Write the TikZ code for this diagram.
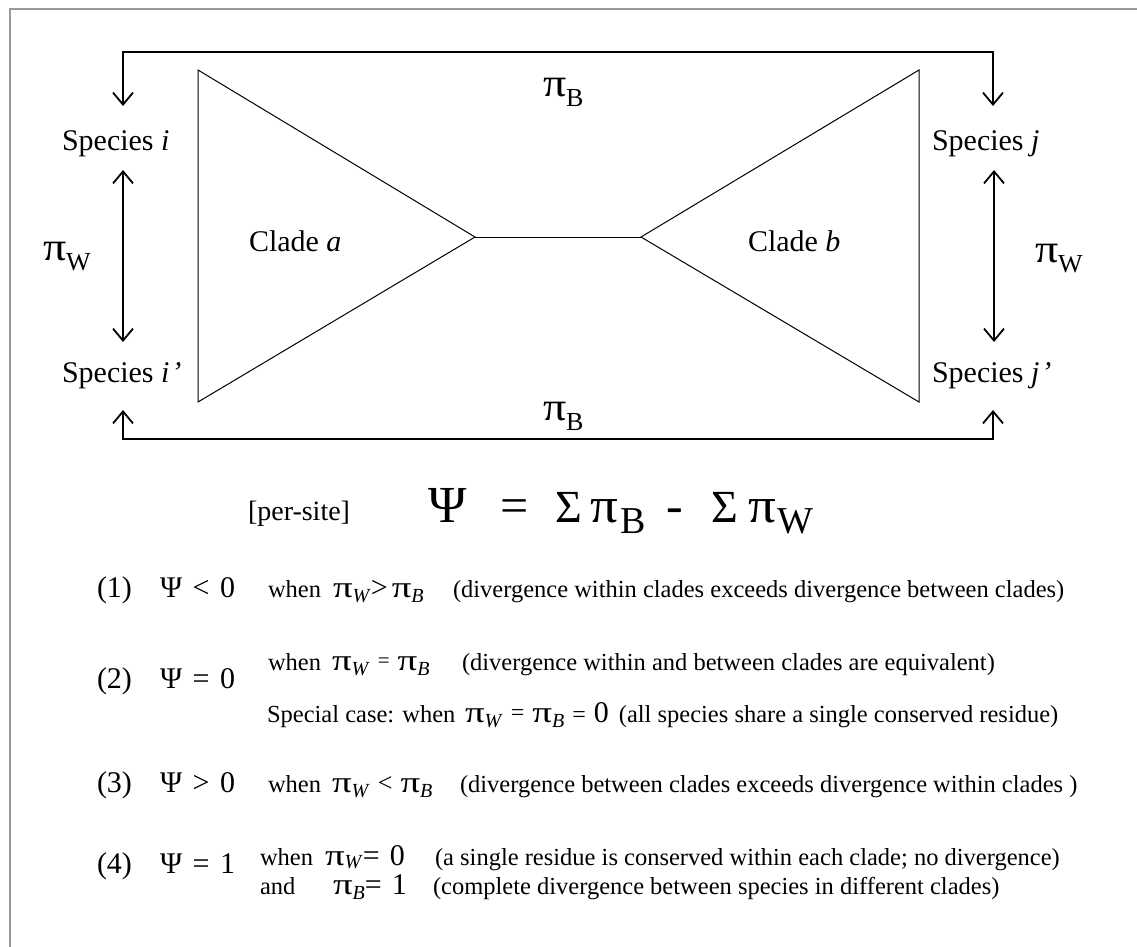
\documentclass[tikz,border=0pt]{standalone}
\usepackage{graphicx}
\usepackage{fontspec}
\setmainfont{Liberation Serif}
\usetikzlibrary{arrows.meta}
\newcommand\fsz[1]{\fontsize{#1}{#1}\selectfont}
\newcommand\PI{{\fsz{30}\scalebox{1.3}[1]{π}}}
\newcommand\SUB[1]{{\fsz{20}\raisebox{-5pt}{\textit{#1}}}}
\newcommand\SUBH[1]{{\fsz{20}\raisebox{-3.5pt}{\textit{#1}}}}
\newcommand\BPI{{\fsz{40}\scalebox{1.15}[1]{π}}}
\newcommand\BSUB[1]{{\fsz{26}\raisebox{-10pt}{#1}}}
\tikzset{
  every node/.style={inner sep=0pt, outer sep=0pt},
  lbl/.style={anchor=base west, font=\fsz{30}},
  rowtxt/.style={anchor=base west, font=\fsz{24.5}},
  numtxt/.style={anchor=base west, font=\fsz{30}},
  eqtxt/.style={anchor=base west, font=\fsz{50}},
  conn/.style={line width=1.5pt},
  tri/.style={line width=1pt, line join=miter},
  frame/.style={line width=2pt, draw=black!40},
}
\begin{document}
\begin{tikzpicture}[x=1pt, y=-1pt, >={Straight Barb[length=12pt,width=20pt,line width=1.8pt]}]
\useasboundingbox (0,0) rectangle (1137,947);
\draw[frame] (10,947) -- (10,9) -- (1137,9);

% clades
\coordinate (la) at (198,70);
\coordinate (lb) at (198,402);
\coordinate (ap) at (475,237);
\coordinate (bp) at (641,237);
\coordinate (ra) at (919,70);
\coordinate (rb) at (919,402);
\draw[tri] (la) -- (ap) -- (lb) -- cycle;
\draw[tri] (ap) -- (bp);
\draw[tri] (bp) -- (ra) -- (rb) -- cycle;
\node[lbl] (ca) at (249,251) {Clade \textit{a}};
\node[lbl] (cb) at (748,251) {Clade \textit{b}};

% species
\node[lbl] (spi) at (62,150) {Species \textit{i}};
\node[lbl] (spii) at (62,382) {Species \textit{i\hspace{2pt}’}};
\node[lbl] (spj) at (932,150) {Species \textit{j}};
\node[lbl] (spjj) at (932,382) {Species \textit{j\hspace{2pt}’}};

% arrow ends
\coordinate (ti) at (123,106);
\coordinate (tj) at (993,106);
\coordinate (bi) at (123,410);
\coordinate (bj) at (993,410);
\coordinate (wi1) at (123,170);
\coordinate (wi2) at (123,342);
\coordinate (wj1) at (994,170);
\coordinate (wj2) at (994,342);
\draw[conn,<->] (ti) -- ++(0,-54) -| (tj);
\draw[conn,<->] (bi) -- ++(0,29) -| (bj);
\draw[conn,<->] (wi1) -- (wi2);
\draw[conn,<->] (wj1) -- (wj2);

% pi labels
\node[anchor=base west] (pwl) at (43,260) {\BPI\BSUB{W}};
\node[anchor=base west] (pwr) at (1035,262) {\BPI\BSUB{W}};
\node[anchor=base west] (pbt) at (543,97) {\BPI\BSUB{B}};
\node[anchor=base west] (pbb) at (543,420) {\BPI\BSUB{B}};

% main equation
\node[anchor=base west, font=\fsz{28}] (ps) at (248,520) {[per-site]};
\node[anchor=base west, font=\fsz{52}] (eqpsi) at (428,522) {Ψ};
\node[eqtxt] (eqeq) at (500,522) {=};
\node[anchor=base west, font=\fsz{46}] (eqs1) at (555,522) {Σ};
\node[eqtxt] (eqp1) at (590,522) {\scalebox{1.1}[1]{π}};
\node[anchor=base west, font=\fsz{38}] (eqb) at (620,533) {B};
\node[eqtxt] (eqm) at (666,522) {-};
\node[anchor=base west, font=\fsz{46}] (eqs2) at (711,522) {Σ};
\node[eqtxt] (eqp2) at (748,522) {\scalebox{1.1}[1]{π}};
\node[anchor=base west, font=\fsz{38}] (eqw) at (777,533) {W};

% row 1
\node[numtxt] (n1) at (97,597) {(1)};
\node[numtxt] (s1) at (160,597) {Ψ\hspace{0.35em}<\hspace{0.35em}0};
\node[rowtxt] (w1) at (268,597) {when};
\node[anchor=base west] (m1) at (333,597) {\PI\SUB{W}{\fsz{30}>}\hspace{4pt}\PI\SUB{B}};
\node[rowtxt] (t1) at (453,597) {(divergence within clades exceeds divergence between clades)};

% row 2
\node[rowtxt] (w2) at (268,670) {when};
\node[anchor=base west] (m2) at (332,670) {\PI\SUB{W}\hspace{8pt}\raisebox{3pt}{\fsz{21}=}\hspace{8pt}\PI\SUB{B}};
\node[rowtxt] (t2) at (462,670) {(divergence within and between clades are equivalent)};
\node[numtxt] (n2) at (97,688) {(2)};
\node[numtxt] (s2) at (160,688) {Ψ\hspace{0.35em}=\hspace{0.35em}0};
\node[rowtxt] (w2b) at (267,722) {Special case: when};
\node[anchor=base west] (m2b) at (465,722) {\PI\SUB{W}\hspace{8pt}\raisebox{2pt}{\fsz{24}=}\hspace{8pt}\PI\SUB{B}\hspace{8pt}{\fsz{24}=}\hspace{8pt}{\fsz{30}0}};
\node[rowtxt, anchor=base west] (t2b) at ([xshift=10pt]m2b.base east) {(all species share a single conserved residue)};

% row 3
\node[numtxt] (n3) at (97,792) {(3)};
\node[numtxt] (s3) at (160,792) {Ψ\hspace{0.35em}>\hspace{0.35em}0};
\node[rowtxt] (w3) at (268,792) {when};
\node[anchor=base west] (m3) at (332,792) {\PI\SUB{W}\hspace{8pt}\raisebox{1pt}{\fsz{26}<}\hspace{8pt}\PI\SUB{B}};
\node[rowtxt] (t3) at (460,792) {(divergence between clades exceeds divergence within clades )};

% row 4
\node[rowtxt] (w4) at (260,865) {when};
\node[anchor=base west] (m4) at (325,865) {\PI\SUBH{W}{\fsz{30}=\hspace{10pt}0}};
\node[rowtxt] (t4) at (435,865) {(a single residue is conserved within each clade; no divergence)};
\node[numtxt] (n4) at (97,873) {(4)};
\node[numtxt] (s4) at (160,873) {Ψ\hspace{0.35em}=\hspace{0.35em}1};
\node[rowtxt] (a4) at (260,894) {and};
\node[anchor=base west] (m4b) at (333,894) {\PI\SUB{B}{\fsz{30}=\hspace{10pt}1}};
\node[rowtxt] (t4b) at (433,894) {(complete divergence between species in different clades)};
\end{tikzpicture}
\end{document}
